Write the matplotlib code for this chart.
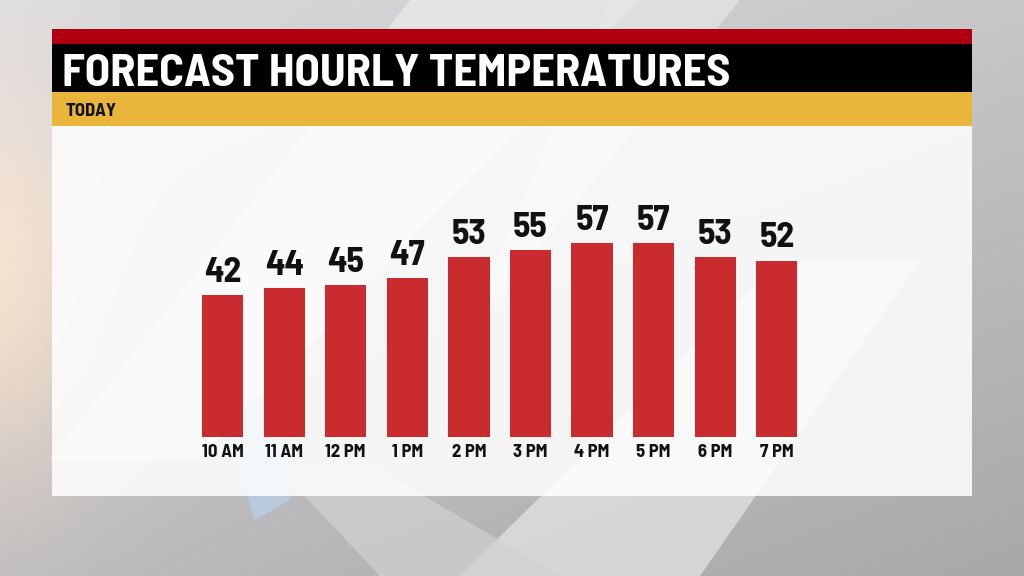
import numpy as np
import matplotlib
matplotlib.use("Agg")
from matplotlib import pyplot as plt
from matplotlib.patches import Rectangle, Polygon

# chart data
hours = ['10 AM', '11 AM', '12 PM', '1 PM', '2 PM', '3 PM', '4 PM', '5 PM', '6 PM', '7 PM']
temps = [42, 44, 45, 47, 53, 55, 57, 57, 53, 52]
title = 'FORECAST HOURLY TEMPERATURES'
subtitle = 'TODAY'

FONT = ['Barlow Semi Condensed', 'DejaVu Sans']
BAR_RED = '#c92b2e'
STRIP_RED = '#b00010'
GOLD = '#e9b53b'
INK = '#111111'

fig = plt.figure(figsize=(10.24, 5.76), dpi=100)
W, H = 1024.0, 576.0

# backdrop: soft grey gradient standing in for the studio image
bg = fig.add_axes([0, 0, 1, 1], zorder=-10)
yy, xx = np.mgrid[0:1:288j, 0:1:512j]
base = 0.86 - 0.12 * yy - 0.08 * xx
glow = np.exp(-(((xx - 0.0) / 0.10) ** 2 + ((yy - 0.50) / 0.35) ** 2))
img = np.dstack([base + 0.16 * glow, base + 0.08 * glow, base + 0.0 * glow + 0.01])
bg.imshow(np.clip(img, 0, 1), extent=[0, W, H, 0], aspect='auto')
for pts, shade in [([(120, 0), (300, 0), (120, 220)], 0.84),
                   ([(410, 0), (640, 0), (200, 460), (50, 460)], 0.93),
                   ([(460, 576), (700, 576), (920, 260), (780, 260)], 0.90),
                   ([(610, 0), (740, 0), (460, 345)], 0.90),
                   ([(280, 470), (380, 470), (560, 576), (380, 576)], 0.82)]:
    bg.add_patch(Polygon(pts, closed=True, color=str(shade), alpha=0.7, lw=0))
bg.add_patch(Polygon([(215, 400), (290, 400), (290, 500), (255, 520)], closed=True,
                     color='#b8cde6', alpha=0.8, lw=0))

def box(x0, y0, x1, y1, **kw):
    bg.add_patch(Rectangle((x0, y0), x1 - x0, y1 - y0, lw=0, **kw))

box(52, 126, 972, 496, facecolor='white', alpha=0.86)
box(52, 29, 972, 44, facecolor=STRIP_RED)
box(52, 44, 972, 92, facecolor='black')
box(52, 92, 972, 126, facecolor=GOLD)
bg.set_xlim(0, W)
bg.set_ylim(H, 0)
bg.axis('off')

fig.text(62 / W, 1 - 85.5 / H, title, color='white', fontsize=33.5, fontweight='bold',
         family=FONT, ha='left', va='baseline')
fig.text(65 / W, 1 - 116 / H, subtitle, color=INK, fontsize=13.4, fontweight='bold',
         family=FONT, ha='left', va='baseline')

# bars
ax = fig.add_axes([52 / W, 1 - 437 / H, 920 / W, 310 / H])
x = np.arange(len(temps))
ax.bar(x, temps, width=0.67, color=BAR_RED, zorder=3)
for xi, t in zip(x, temps):
    ax.annotate(str(t), (xi, t), xytext=(0, 9.5), textcoords='offset points',
                ha='center', va='baseline', fontsize=25.7, fontweight='bold',
                family=FONT, color=INK)

ax.set_xlim(-2.77, 12.17)
ax.set_ylim(1.3, 90.4)
ax.set_xticks(x)
ax.set_xticklabels(hours, fontsize=13.4, fontweight='bold', family=FONT, color=INK)
ax.tick_params(axis='x', length=0, pad=5)
ax.set_yticks([])
ax.patch.set_visible(False)
for s in ax.spines.values():
    s.set_visible(False)

fig.savefig('out.png', dpi=100)
